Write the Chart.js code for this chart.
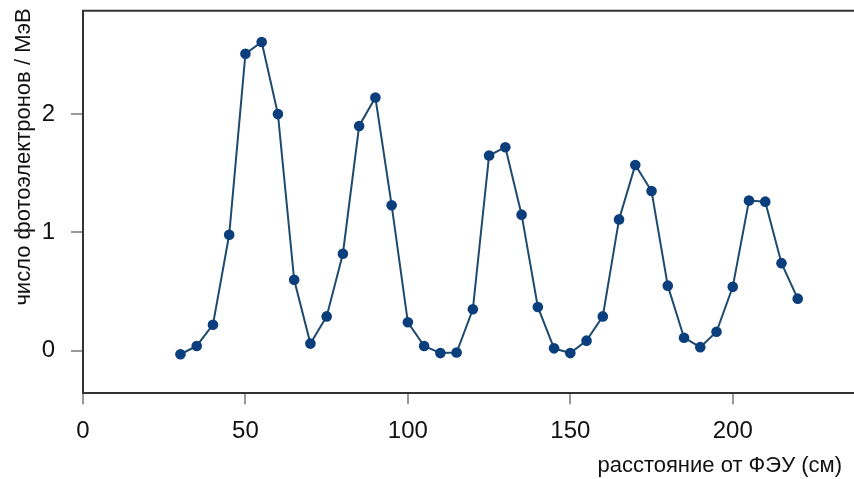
<!DOCTYPE html>
<html>
<head>
<meta charset="utf-8">
<script src="https://cdn.jsdelivr.net/npm/chart.js@4/dist/chart.umd.min.js"></script>
<style>
  html, body { margin: 0; padding: 0; background: #fff; overflow: hidden; width: 854px; height: 479px; }
  #wrap { position: absolute; left: 0; top: 0; width: 868px; height: 479px; }
</style>
</head>
<body>
<div id="wrap"><canvas id="chart"></canvas></div>
<script>
// расстояние от ФЭУ (см)
const distances = [30, 35, 40, 45, 50, 55, 60, 65, 70, 75, 80, 85, 90, 95, 100,
  105, 110, 115, 120, 125, 130, 135, 140, 145, 150, 155, 160, 165, 170, 175,
  180, 185, 190, 195, 200, 205, 210, 215, 220];
// число фотоэлектронов / МэВ
const photoelectrons = [-0.03, 0.04, 0.22, 0.98, 2.51, 2.61, 2.00, 0.60, 0.06, 0.29,
  0.82, 1.90, 2.14, 1.23, 0.24, 0.04, -0.02, -0.015, 0.35, 1.65, 1.72, 1.15, 0.37,
  0.02, -0.02, 0.085, 0.29, 1.11, 1.57, 1.35, 0.55, 0.11, 0.03, 0.16, 0.54, 1.27,
  1.26, 0.74, 0.44];
const xTicks = [0, 50, 100, 150, 200];
const yTicks = [0, 1, 2];

const xTitle = "расстояние от ФЭУ (см)";
const yTitle = "число фотоэлектронов / МэВ";

const FONT = "'Liberation Sans', Arial, sans-serif";

// titles and top frame line drawn by hand
const framePlugin = {
  id: "frame",
  afterDraw(chart) {
    const ctx = chart.ctx;
    const area = chart.chartArea;
    ctx.save();
    ctx.strokeStyle = "#333";
    ctx.lineWidth = 2;
    ctx.beginPath();
    ctx.moveTo(area.left - 1, area.top);
    ctx.lineTo(chart.width, area.top);
    ctx.stroke();

    ctx.fillStyle = "#111";
    ctx.font = "22px " + FONT;
    ctx.textAlign = "right";
    ctx.textBaseline = "middle";
    ctx.fillText(xTitle, 842, 466);

    ctx.translate(24, 157);
    ctx.rotate(-Math.PI / 2);
    ctx.textAlign = "center";
    ctx.fillText(yTitle, 0, 0);
    ctx.restore();
  }
};

new Chart(document.getElementById("chart"), {
  type: "line",
  data: {
    labels: distances,
    datasets: [{
      data: distances.map((d, i) => ({ x: d, y: photoelectrons[i] })),
      borderColor: "#1e4a70",
      borderWidth: 2,
      pointBackgroundColor: "#0a3e7c",
      pointBorderColor: "#0a3e7c",
      pointRadius: 5.3,
      pointBorderWidth: 0,
      tension: 0,
      fill: false
    }]
  },
  options: {
    responsive: true,
    maintainAspectRatio: false,
    animation: false,
    layout: { padding: { top: 10.7, right: 2, left: 0, bottom: 0 } },
    plugins: { legend: { display: false }, tooltip: { enabled: false } },
    scales: {
      x: {
        type: "linear",
        min: 0,
        max: 240,
        afterBuildTicks: s => { s.ticks = xTicks.map(v => ({ value: v })); },
        afterFit: s => { s.height = 85.7; s.paddingLeft = 0; s.paddingRight = 0; },
        grid: { display: true, drawOnChartArea: false, drawTicks: true, tickLength: 11, color: "#999", lineWidth: 2 },
        border: { display: true, color: "#333", width: 2 },
        ticks: { color: "#111", font: { family: FONT, size: 24 }, padding: 13, maxRotation: 0 }
      },
      y: {
        type: "linear",
        min: -0.36,
        max: 2.874,
        afterBuildTicks: s => { s.ticks = yTicks.map(v => ({ value: v })); },
        afterFit: s => { s.width = 83; s.paddingTop = 0; s.paddingBottom = 0; },
        grid: { display: true, drawOnChartArea: false, drawTicks: true, tickLength: 12, color: "#999", lineWidth: 2 },
        border: { display: true, color: "#333", width: 2 },
        ticks: { color: "#111", font: { family: FONT, size: 24 }, padding: 16 }
      }
    }
  },
  plugins: [framePlugin]
});
</script>
</body>
</html>
